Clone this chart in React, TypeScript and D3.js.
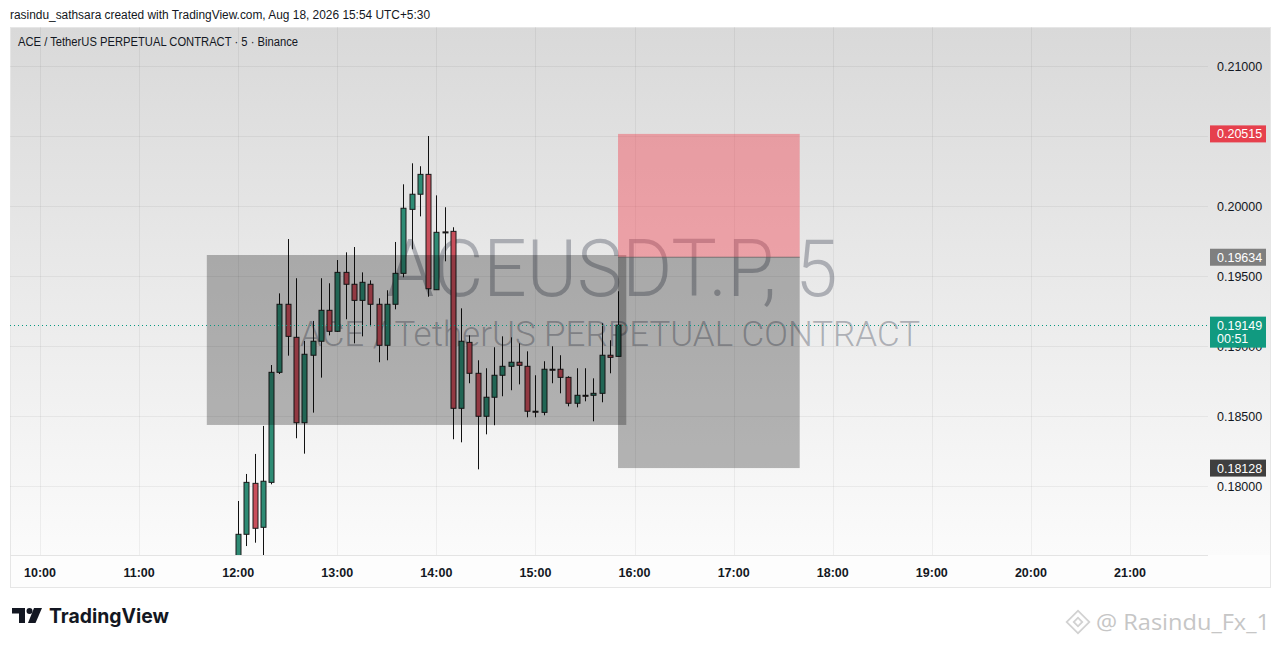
import { useEffect, useRef } from 'react';
import * as React from 'react';
import * as d3 from 'd3';

// 5 minute candles, ACEUSDT.P
const times = [
    '12:00', '12:05', '12:10', '12:15', '12:20', '12:25', '12:30', '12:35', '12:40', '12:45', '12:50', '12:55',
    '13:00', '13:05', '13:10', '13:15', '13:20', '13:25', '13:30', '13:35', '13:40', '13:45', '13:50', '13:55',
    '14:00', '14:05', '14:10', '14:15', '14:20', '14:25', '14:30', '14:35', '14:40', '14:45', '14:50', '14:55',
    '15:00', '15:05', '15:10', '15:15', '15:20', '15:25', '15:30', '15:35', '15:40', '15:45', '15:50',
];
const opens = [
    0.17436, 0.17655, 0.18019, 0.17705, 0.18026, 0.18812, 0.19298, 0.19062, 0.18452, 0.18934, 0.19034, 0.19255,
    0.19105, 0.19526, 0.19441, 0.19326, 0.19441, 0.19298, 0.19005, 0.19298, 0.19519, 0.19976, 0.20084, 0.20226,
    0.19402, 0.19815, 0.19819, 0.18555, 0.19026, 0.18805, 0.18498, 0.18634, 0.18791, 0.18855, 0.18884, 0.18855,
    0.18534, 0.18526, 0.18834, 0.18834, 0.18776, 0.18591, 0.18648, 0.18648, 0.18662, 0.18934, 0.18926,
];
const highs = [
    0.17893, 0.18086, 0.18229, 0.18429, 0.18864, 0.19376, 0.19764, 0.19484, 0.19036, 0.19179, 0.19484, 0.19448,
    0.19614, 0.19669, 0.19707, 0.19526, 0.19469, 0.19341, 0.19398, 0.19743, 0.20155, 0.20305, 0.20284, 0.20500,
    0.20076, 0.19991, 0.19848, 0.19269, 0.19076, 0.18898, 0.18841, 0.18991, 0.19069, 0.19062, 0.19019, 0.18962,
    0.18791, 0.18891, 0.18998, 0.18934, 0.18784, 0.18841, 0.18841, 0.18769, 0.19162, 0.19041, 0.19391,
];
const lows = [
    0.17364, 0.17571, 0.17595, 0.17484, 0.18012, 0.18800, 0.18931, 0.18341, 0.18231, 0.18524, 0.18774, 0.19076,
    0.19100, 0.19191, 0.19019, 0.19069, 0.19141, 0.18884, 0.18898, 0.19262, 0.19491, 0.19691, 0.19926, 0.19352,
    0.19400, 0.19605, 0.18334, 0.18312, 0.18734, 0.18119, 0.18369, 0.18434, 0.18641, 0.18684, 0.18726, 0.18491,
    0.18491, 0.18505, 0.18734, 0.18662, 0.18569, 0.18562, 0.18605, 0.18462, 0.18598, 0.18805, 0.18926,
];
const closes = [
    0.17655, 0.18026, 0.17698, 0.18034, 0.18812, 0.19298, 0.19069, 0.18452, 0.18941, 0.19034, 0.19255, 0.19105,
    0.19526, 0.19441, 0.19326, 0.19455, 0.19298, 0.19005, 0.19298, 0.19519, 0.19984, 0.20084, 0.20226, 0.19409,
    0.19812, 0.19810, 0.18555, 0.19034, 0.18805, 0.18498, 0.18634, 0.18791, 0.18855, 0.18884, 0.18862, 0.18534,
    0.18530, 0.18834, 0.18830, 0.18776, 0.18591, 0.18648, 0.18645, 0.18662, 0.18934, 0.18919, 0.19149,
];

const hourLabels = ['10:00', '11:00', '12:00', '13:00', '14:00', '15:00', '16:00', '17:00', '18:00', '19:00', '20:00', '21:00'];
const priceTicks = [0.18, 0.185, 0.19, 0.195, 0.2, 0.205, 0.21];

// drawings
const rectStart = '11:41', rectEnd = '15:55';
const rectTop = 0.1965, rectBottom = 0.18436;
const posStart = '15:50', posEnd = '17:40';
const entryPrice = 0.19634, stopPrice = 0.20515, targetPrice = 0.18128;
const lastPrice = 0.19149;
const countdown = '00:51';

const toMin = (t: string) => {
    const [h, m] = t.split(':').map(Number);
    return h * 60 + m;
};

const App: React.FC = () => {
    const ref = useRef<SVGSVGElement>(null);

    useEffect(() => {
        const svg = d3.select(ref.current);
        svg.selectAll('*').remove();

        const left = 10, right = 1270, top = 27, plotBottom = 555, axisBottom = 587, plotRight = 1208;

        const x = d3.scaleLinear().domain([600, 1260]).range([40, 1130]);
        const y = d3.scaleLinear().domain([0.18, 0.21]).range([486, 66]);
        const fmt = d3.format('.5f');
        const font = "'Liberation Sans', Arial, sans-serif";

        const defs = svg.append('defs');
        const grad = defs.append('linearGradient')
            .attr('id', 'bg')
            .attr('gradientUnits', 'userSpaceOnUse')
            .attr('x1', 0).attr('x2', 0).attr('y1', top).attr('y2', plotBottom);
        grad.append('stop').attr('offset', 0).attr('stop-color', '#d9d9d9');
        grad.append('stop').attr('offset', 1).attr('stop-color', '#fbfbfb');
        defs.append('clipPath').attr('id', 'plot')
            .append('rect').attr('x', left).attr('y', top).attr('width', plotRight - left).attr('height', plotBottom - top);

        svg.append('rect').attr('width', 1281).attr('height', 647).attr('fill', '#ffffff');
        svg.append('rect')
            .attr('x', left + 0.5).attr('y', top + 0.5)
            .attr('width', right - left).attr('height', axisBottom - top)
            .attr('fill', '#fdfdfd').attr('stroke', '#e6e6e6');
        svg.append('rect')
            .attr('x', left + 1).attr('y', top + 1)
            .attr('width', right - left - 1).attr('height', plotBottom - top - 1)
            .attr('fill', 'url(#bg)');

        // grid
        svg.append('g').selectAll('line')
            .data(hourLabels)
            .enter().append('line')
            .attr('x1', d => Math.round(x(toMin(d))) + 0.5)
            .attr('x2', d => Math.round(x(toMin(d))) + 0.5)
            .attr('y1', top).attr('y2', plotBottom)
            .attr('stroke', 'rgba(0,0,0,0.05)');
        svg.append('g').selectAll('line')
            .data(priceTicks)
            .enter().append('line')
            .attr('x1', left).attr('x2', plotRight)
            .attr('y1', d => Math.round(y(d)) + 0.5)
            .attr('y2', d => Math.round(y(d)) + 0.5)
            .attr('stroke', 'rgba(0,0,0,0.05)');
        svg.append('line')
            .attr('x1', left).attr('x2', plotRight)
            .attr('y1', plotBottom + 0.5).attr('y2', plotBottom + 0.5)
            .attr('stroke', '#e4e4e4');

        // watermark
        const cx = (left + plotRight) / 2;
        svg.append('text')
            .attr('x', cx + 3).attr('y', 296)
            .attr('text-anchor', 'middle')
            .attr('font-family', 'Roboto, sans-serif')
            .attr('font-size', 80).attr('font-weight', 300)
            .attr('textLength', 451)
            .attr('lengthAdjust', 'spacingAndGlyphs')
            .attr('fill', 'rgba(120,123,134,0.55)')
            .text('ACEUSDT.P, 5');
        svg.append('text')
            .attr('x', cx + 1).attr('y', 346)
            .attr('text-anchor', 'middle')
            .attr('font-family', 'Roboto, sans-serif')
            .attr('font-size', 35).attr('font-weight', 300)
            .attr('textLength', 620)
            .attr('lengthAdjust', 'spacingAndGlyphs')
            .attr('fill', 'rgba(120,123,134,0.55)')
            .text('ACE / TetherUS PERPETUAL CONTRACT');

        // candles
        const idx = d3.range(times.length);
        const plot = svg.append('g').attr('clip-path', 'url(#plot)');
        const bodyW = 5;
        plot.selectAll('line.wick')
            .data(idx)
            .enter().append('line')
            .attr('class', 'wick')
            .attr('x1', i => Math.round(x(toMin(times[i]))) + 0.5)
            .attr('x2', i => Math.round(x(toMin(times[i]))) + 0.5)
            .attr('y1', i => y(highs[i]))
            .attr('y2', i => y(lows[i]))
            .attr('stroke', '#111')
            .attr('stroke-width', 1);
        plot.selectAll('rect.body')
            .data(idx)
            .enter().append('rect')
            .attr('class', 'body')
            .attr('x', i => Math.round(x(toMin(times[i]))) + 0.5 - bodyW / 2)
            .attr('width', bodyW)
            .attr('y', i => y(Math.max(opens[i], closes[i])))
            .attr('height', i => Math.max(1, Math.abs(y(opens[i]) - y(closes[i]))))
            .attr('fill', i => (closes[i] >= opens[i] ? '#2e8b74' : '#c94f5b'))
            .attr('stroke', '#1a1a1a')
            .attr('stroke-width', 1);

        // rectangle drawing
        svg.append('rect')
            .attr('x', x(toMin(rectStart)))
            .attr('y', y(rectTop))
            .attr('width', x(toMin(rectEnd)) - x(toMin(rectStart)))
            .attr('height', y(rectBottom) - y(rectTop))
            .attr('fill', 'rgba(0,0,0,0.27)');

        // short position tool
        const px0 = x(toMin(posStart)), px1 = x(toMin(posEnd));
        svg.append('rect')
            .attr('x', px0).attr('y', y(stopPrice))
            .attr('width', px1 - px0).attr('height', y(entryPrice) - y(stopPrice))
            .attr('fill', 'rgba(242,54,69,0.4)');
        svg.append('rect')
            .attr('x', px0).attr('y', y(entryPrice))
            .attr('width', px1 - px0).attr('height', y(targetPrice) - y(entryPrice))
            .attr('fill', 'rgba(0,0,0,0.27)');
        svg.append('line')
            .attr('x1', px0).attr('x2', px1)
            .attr('y1', y(entryPrice)).attr('y2', y(entryPrice))
            .attr('stroke', 'rgba(90,90,90,0.7)');

        // last price line
        svg.append('line')
            .attr('x1', left).attr('x2', plotRight)
            .attr('y1', Math.round(y(lastPrice)) + 0.5).attr('y2', Math.round(y(lastPrice)) + 0.5)
            .attr('stroke', '#089981')
            .attr('stroke-dasharray', '1,3');

        // price axis
        svg.append('g').selectAll('text')
            .data(priceTicks)
            .enter().append('text')
            .attr('x', 1217).attr('y', d => y(d) + 4.5)
            .attr('font-family', font).attr('font-size', 12.5)
            .attr('fill', '#131722')
            .text(d => fmt(d));

        const badges = [
            { p: stopPrice, c: '#e6404d' },
            { p: entryPrice, c: '#7f7f7f' },
            { p: targetPrice, c: '#3f3f3f' },
        ];
        const bg = svg.append('g');
        badges.forEach(b => {
            bg.append('rect')
                .attr('x', 1210).attr('y', y(b.p) - 8.5)
                .attr('width', 56).attr('height', 17)
                .attr('fill', b.c);
            bg.append('text')
                .attr('x', 1217).attr('y', y(b.p) + 4.5)
                .attr('font-family', font).attr('font-size', 12.5)
                .attr('fill', '#ffffff')
                .text(fmt(b.p));
        });
        const ly = y(lastPrice);
        bg.append('rect')
            .attr('x', 1210).attr('y', ly - 8.5)
            .attr('width', 56).attr('height', 31)
            .attr('fill', '#119a80');
        bg.append('text')
            .attr('x', 1217).attr('y', ly + 4.5)
            .attr('font-family', font).attr('font-size', 12.5)
            .attr('fill', '#ffffff')
            .text(fmt(lastPrice));
        bg.append('text')
            .attr('x', 1217).attr('y', ly + 18)
            .attr('font-family', font).attr('font-size', 12.5)
            .attr('fill', '#ffffff')
            .text(countdown);

        // time axis
        svg.append('g').selectAll('text')
            .data(hourLabels)
            .enter().append('text')
            .attr('x', d => x(toMin(d)))
            .attr('y', 577)
            .attr('text-anchor', 'middle')
            .attr('font-family', font).attr('font-size', 12.5).attr('font-weight', 600)
            .attr('fill', '#131722')
            .text(d => d);

        // header & legend
        svg.append('text')
            .attr('x', 10).attr('y', 18.5)
            .attr('font-family', font).attr('font-size', 12)
            .attr('textLength', 420).attr('lengthAdjust', 'spacingAndGlyphs')
            .attr('fill', '#131722')
            .text('rasindu_sathsara created with TradingView.com, Aug 18, 2026 15:54 UTC+5:30');
        svg.append('text')
            .attr('x', 18).attr('y', 46)
            .attr('font-family', font).attr('font-size', 12.5)
            .attr('textLength', 280).attr('lengthAdjust', 'spacingAndGlyphs')
            .attr('fill', '#131722')
            .text('ACE / TetherUS PERPETUAL CONTRACT · 5 · Binance');

        // TradingView logo
        const logo = svg.append('g').attr('fill', '#131722');
        logo.append('path').attr('d', 'M12 608 H25 V623 H19 V613.5 H12 Z');
        logo.append('circle').attr('cx', 29.5).attr('cy', 611).attr('r', 3);
        logo.append('path').attr('d', 'M34 608 H42 L35.5 623 H28 Z');
        svg.append('text')
            .attr('x', 49).attr('y', 623)
            .attr('font-family', 'Inter, sans-serif').attr('font-size', 19.5).attr('font-weight', 700)
            .attr('textLength', 120).attr('lengthAdjust', 'spacingAndGlyphs')
            .attr('fill', '#131722')
            .text('TradingView');

        // author watermark
        const icon = svg.append('g')
            .attr('transform', 'translate(1078,622) rotate(45)')
            .attr('fill', 'none').attr('stroke', '#d2d2d2').attr('stroke-width', 1.8);
        icon.append('rect').attr('x', -8).attr('y', -8).attr('width', 16).attr('height', 16);
        icon.append('rect').attr('x', -3).attr('y', -3).attr('width', 6).attr('height', 6);
        svg.append('text')
            .attr('x', 1096).attr('y', 630)
            .attr('font-family', "'Open Sans', sans-serif").attr('font-size', 21)
            .attr('textLength', 174).attr('lengthAdjust', 'spacingAndGlyphs')
            .attr('fill', '#c6c6c6')
            .text('@ Rasindu_Fx_1');
    }, []);

    return (
        <svg
            ref={ref}
            width={1281}
            height={647}
            style={{ position: 'absolute', left: 0, top: 0 }}
        />
    );
};

export default App;
